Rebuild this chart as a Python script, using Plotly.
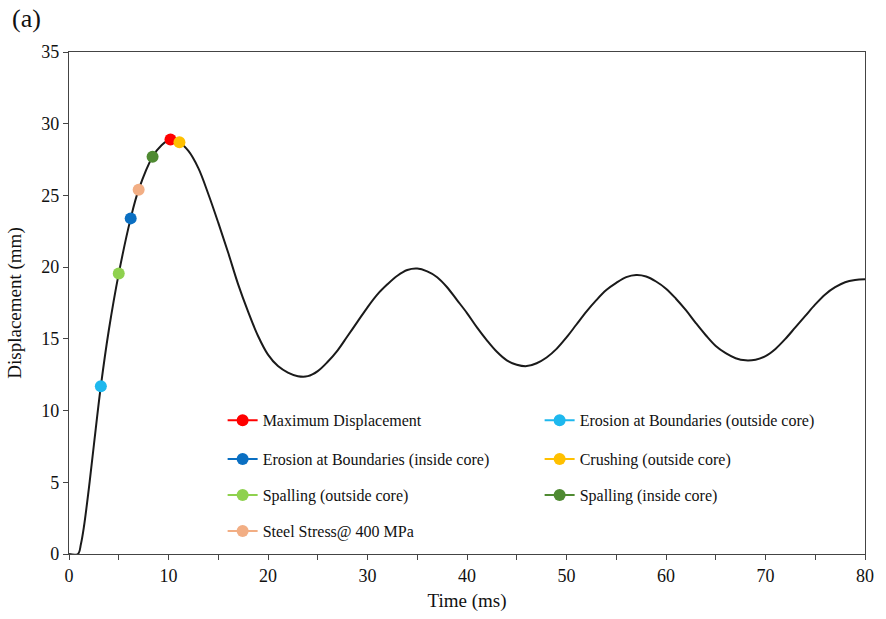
import plotly.graph_objects as go

# Displacement-time history
time_ms = [0, 0.9, 1.2, 1.5, 2.0, 2.5, 3.2, 4.0, 5.0, 6.2, 7.0, 8.4, 9.3, 10.2, 11.0, 12, 13, 14, 15, 16, 17,
           18, 19, 20, 21, 22, 23, 24, 25, 26, 27, 28, 29, 30, 31, 32, 33, 34, 35, 36, 37, 38, 39,
           40, 41, 42, 43, 44, 45, 46, 47, 48, 49, 50, 51, 52, 53, 54, 55, 56, 57, 58, 59, 60, 61,
           62, 63, 64, 65, 66, 67, 68, 69, 70, 71, 72, 73, 74, 75, 76, 77, 78, 79, 80]
disp_mm = [0, 0, 0.7, 1.9, 4.6, 7.6, 11.7, 15.6, 19.55, 23.4, 25.4, 27.7, 28.5, 28.9, 28.75, 28.1, 26.9, 25.1,
           23.1, 21.0, 18.8, 16.9, 15.2, 13.9, 13.1, 12.65, 12.4, 12.4, 12.75, 13.4, 14.2, 15.2, 16.2,
           17.2, 18.1, 18.8, 19.4, 19.8, 19.9, 19.7, 19.3, 18.6, 17.7, 16.8, 15.8, 14.9, 14.1, 13.5,
           13.2, 13.1, 13.3, 13.7, 14.3, 15.1, 16.0, 16.9, 17.7, 18.4, 18.9, 19.3, 19.45, 19.35, 19.0,
           18.5, 17.8, 17.0, 16.1, 15.25, 14.5, 14.0, 13.65, 13.5, 13.55, 13.8, 14.3, 15.0, 15.8, 16.6,
           17.4, 18.1, 18.6, 18.95, 19.1, 19.15]

# Damage events
event_names = ["Maximum Displacement", "Erosion at Boundaries (outside core)",
               "Erosion at Boundaries (inside core)", "Crushing (outside core)",
               "Spalling (outside core)", "Spalling (inside core)", "Steel Stress@ 400 MPa"]
event_time = [10.2, 3.2, 6.2, 11.1, 5.0, 8.4, 7.0]
event_disp = [28.9, 11.7, 23.4, 28.7, 19.55, 27.7, 25.4]
event_colors = ["#FF0000", "#1EB8EE", "#0A6FC2", "#FFC000", "#8FD14F", "#4F8A32", "#F2AE84"]
event_legend = ["legend", "legend", "legend2", "legend2", "legend3", "legend3", "legend4"]

x_ticks = [0, 10, 20, 30, 40, 50, 60, 70, 80]
y_ticks = [0, 5, 10, 15, 20, 25, 30, 35]

FONT = "Liberation Serif, Times New Roman, serif"

fig = go.Figure()
fig.add_trace(go.Scatter(x=time_ms, y=disp_mm, mode="lines",
                         line=dict(color="#1a1a1a", width=2, shape="spline", smoothing=1.0),
                         showlegend=False, hoverinfo="skip"))
for n, t, d, c, lg in zip(event_names, event_time, event_disp, event_colors, event_legend):
    fig.add_trace(go.Scatter(x=[t], y=[d], mode="lines+markers", name=n, legend=lg,
                             marker=dict(color=c, size=12), line=dict(color=c, width=2)))

rows_y = [0.2664, 0.1889, 0.1173, 0.0457]
leg_common = dict(orientation="h", x=0.193, xanchor="left", yanchor="middle", entrywidth=272,
                  entrywidthmode="pixels", bgcolor="rgba(0,0,0,0)",
                  font=dict(family=FONT, size=16, color="#111"), itemwidth=30)

axis_common = dict(showline=True, linecolor="#444", linewidth=1.3, mirror=True, ticks="outside",
                   ticklen=5, tickcolor="#444", showgrid=False, zeroline=False,
                   tickfont=dict(family=FONT, size=18, color="#111"))

fig.update_layout(
    width=886, height=619,
    margin=dict(l=69, r=14, t=52, b=64),
    paper_bgcolor="white", plot_bgcolor="white",
    font=dict(family=FONT, size=17, color="#111"),
    xaxis=dict(range=[0, 80], tickvals=x_ticks,
               minor=dict(dtick=5, ticks="outside", ticklen=5, tickcolor="#444"),
               title=dict(text="Time (ms)", font=dict(family=FONT, size=19), standoff=8), **axis_common),
    yaxis=dict(range=[0, 35], tickvals=y_ticks,
               title=dict(text="Displacement (mm)", font=dict(family=FONT, size=19), standoff=14), **axis_common),
    legend=dict(y=rows_y[0], **leg_common),
    legend2=dict(y=rows_y[1], **leg_common),
    legend3=dict(y=rows_y[2], **leg_common),
    legend4=dict(y=rows_y[3], **leg_common),
    annotations=[dict(text="(a)", x=0, y=1, xref="paper", yref="paper", xanchor="left", yanchor="top",
                      xshift=-59, yshift=50, showarrow=False, font=dict(family=FONT, size=26, color="#111"))],
)

fig.write_html("out.html")
